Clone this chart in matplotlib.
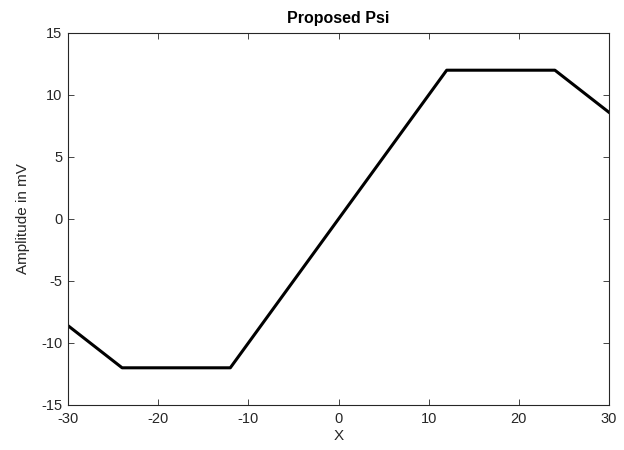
import matplotlib
matplotlib.use("Agg")
import matplotlib.pyplot as plt

x_vals = [-30, -24, -12, 12, 24, 30]
y_vals = [-8.6, -12, -12, 12, 12, 8.6]
x_ticks = [-30, -20, -10, 0, 10, 20, 30]
y_ticks = [-15, -10, -5, 0, 5, 10, 15]

plt.rcParams['font.family'] = ['Liberation Sans', 'DejaVu Sans']
plt.rcParams['axes.unicode_minus'] = False

fig = plt.figure(figsize=(6.24, 4.5), dpi=100)
ax = fig.add_axes([68/624, 1-405/450, (609-68)/624, (405-33)/450])
ax.plot(x_vals, y_vals, color='black', linewidth=2.2)
ax.set_xlim(-30, 30)
ax.set_ylim(-15, 15)
ax.set_xticks(x_ticks)
ax.set_yticks(y_ticks)
ax.tick_params(direction='in', top=True, right=True, length=4, width=0.6,
               labelsize=10.5, colors='#262626', labelcolor='#262626')
ax.tick_params(axis='x', pad=5)
ax.tick_params(axis='y', pad=4)
for s in ax.spines.values():
    s.set_linewidth(0.8)
    s.set_color('#262626')
ax.set_title('Proposed Psi', fontsize=11.5, fontweight='bold', pad=7)
ax.set_xlabel('X', fontsize=11, color='#262626', labelpad=2)
ax.set_ylabel('Amplitude in mV', fontsize=11, color='#262626', labelpad=8)
fig.savefig('out.png', dpi=100)
